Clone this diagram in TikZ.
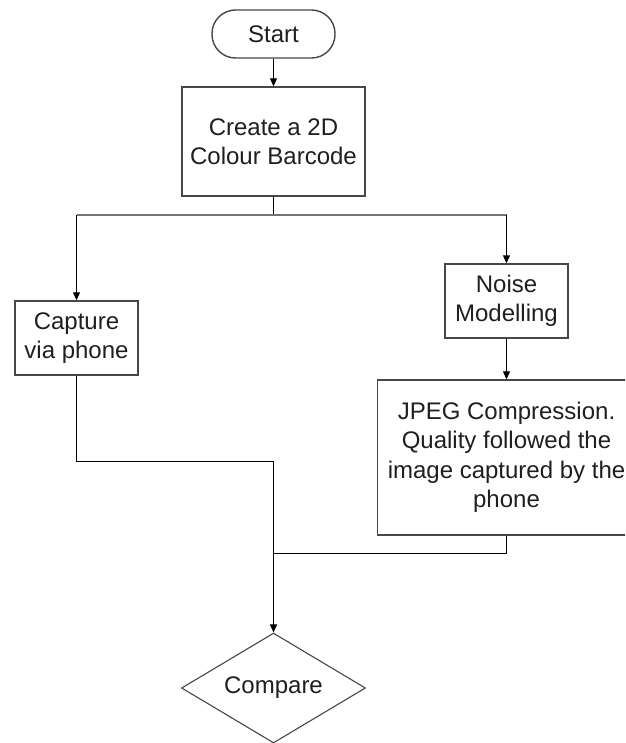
\documentclass[tikz,border=0pt]{standalone}
\usepackage{fontspec}
\setmainfont{Liberation Sans}
\usetikzlibrary{arrows.meta,shapes.geometric}
\tikzset{
  boxstyle/.style={draw=black!72, line width=1.4pt, fill=white, inner sep=0pt, align=center,
    font=\fontsize{24}{29.5}\selectfont, text=black!88},
  startstyle/.style={boxstyle, rounded corners=23.5pt},
  decstyle/.style={draw=black!72, line width=1.1pt, shape=diamond, aspect=1.67, inner sep=0pt,
    font=\fontsize{24}{29.5}\selectfont, text=black!88, minimum width=184pt, minimum height=110pt},
  conn/.style={draw=black, line width=1pt},
  arr/.style={conn, -{Triangle[length=8pt,width=7pt]}},
  hline/.style={draw=black!55, line width=2pt}
}
\begin{document}
\begin{tikzpicture}[x=1pt,y=-1pt]
\clip (0,0) rectangle (625,743);
\fill[white] (0,0) rectangle (625,743);

\node[startstyle, minimum width=123pt, minimum height=48pt] (start) at (273.5,34) {Start};
\node[boxstyle, minimum width=183pt, minimum height=109pt] (create) at (273.5,141.5) {Create a 2D\\Colour Barcode};
\node[boxstyle, minimum width=123pt, minimum height=74pt] (capture) at (76.5,338) {Capture\\via phone};
\node[boxstyle, minimum width=123pt, minimum height=74pt] (noise) at (506.5,301) {Noise\\Modelling};
\node[boxstyle, minimum width=258pt, minimum height=155pt] (jpeg) at (506.5,457.5) {JPEG Compression.\\Quality followed the\\image captured by the\\phone};
\node[decstyle] (compare) at (273.5,688) {Compare};

\coordinate (j) at (273.5,215);
\coordinate (m1) at (273.5,461);
\coordinate (m2) at (273.5,553);

\draw[arr] (start) -- (create);
\draw[conn] (create.south) -- (j);
\draw[hline] (j -| capture.north) -- (j -| noise.north);
\draw[arr] (j -| capture.north) -- (capture.north);
\draw[arr] (j -| noise.north) -- (noise.north);
\draw[arr] (noise) -- (jpeg);
\draw[conn] (capture.south) |- (m1);
\draw[arr] (m1) -- (compare.north);
\draw[conn] (jpeg.south) |- (m2);
\end{tikzpicture}
\end{document}
